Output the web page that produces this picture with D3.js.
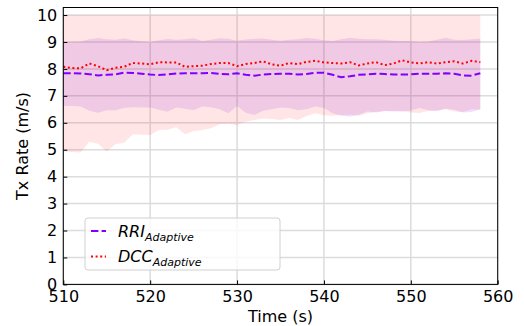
<!DOCTYPE html>
<html>
  <head>
    <meta charset="utf-8">
    <script type="text/javascript" src="https://cdn.jsdelivr.net/npm/d3@7"></script>
    <title></title>
    <style>
      body { margin: 0; background: #fff; }
      text { font-family: "DejaVu Sans", sans-serif; }
    </style>
  </head>
  <body>
    <div id="body"></div>
    <script type="text/javascript">
    // time axis, one sample per second
    var time = d3.range(510, 559);

    var rriMean = [7.84, 7.84, 7.83, 7.80, 7.76, 7.78, 7.80, 7.86, 7.85, 7.82,
                   7.79, 7.77, 7.80, 7.83, 7.84, 7.84, 7.84, 7.85, 7.82, 7.80,
                   7.84, 7.78, 7.75, 7.79, 7.81, 7.82, 7.82, 7.79, 7.81, 7.86,
                   7.86, 7.78, 7.69, 7.73, 7.78, 7.80, 7.82, 7.81, 7.79, 7.79,
                   7.80, 7.82, 7.82, 7.82, 7.84, 7.82, 7.76, 7.75, 7.84];
    var rriUpper = [9.01, 9.01, 9.02, 9.10, 9.15, 9.10, 9.08, 9.14, 9.06, 9.03,
                    9.00, 9.06, 9.11, 9.08, 9.10, 9.14, 9.04, 9.08, 9.14, 9.12,
                    9.05, 9.09, 9.12, 9.13, 9.08, 9.05, 9.08, 9.10, 9.15, 9.12,
                    9.06, 9.04, 9.10, 9.16, 9.12, 9.10, 9.10, 9.08, 9.05, 9.04,
                    9.04, 9.00, 9.02, 9.08, 9.16, 9.08, 9.07, 9.10, 9.13];
    var rriLower = [6.62, 6.62, 6.60, 6.45, 6.37, 6.47, 6.47, 6.55, 6.58, 6.57,
                    6.57, 6.48, 6.41, 6.57, 6.52, 6.47, 6.60, 6.58, 6.50, 6.35,
                    6.62, 6.37, 6.29, 6.45, 6.50, 6.57, 6.55, 6.47, 6.50, 6.60,
                    6.55, 6.35, 6.27, 6.22, 6.30, 6.42, 6.38, 6.44, 6.42, 6.42,
                    6.46, 6.55, 6.47, 6.44, 6.52, 6.48, 6.38, 6.40, 6.50];

    var dccMean = [8.08, 8.03, 8.02, 8.20, 8.10, 7.95, 8.04, 8.08, 8.22, 8.20,
                   8.17, 8.25, 8.24, 8.24, 8.08, 8.10, 8.12, 8.18, 8.22, 8.22,
                   8.10, 8.18, 8.22, 8.28, 8.17, 8.12, 8.22, 8.18, 8.26, 8.30,
                   8.24, 8.22, 8.20, 8.25, 8.13, 8.20, 8.25, 8.14, 8.20, 8.32,
                   8.24, 8.20, 8.25, 8.20, 8.25, 8.28, 8.20, 8.30, 8.25];
    var dccUpper = time.map(function() { return 10; });
    var dccLower = [4.93, 4.92, 4.90, 5.30, 5.22, 4.93, 5.20, 5.26, 5.57, 5.56,
                    5.55, 5.73, 5.74, 5.83, 5.57, 5.69, 5.73, 5.80, 5.95, 5.96,
                    5.92, 6.04, 6.10, 6.16, 6.14, 6.10, 6.18, 6.10, 6.25, 6.35,
                    6.28, 6.26, 6.28, 6.30, 6.26, 6.35, 6.40, 6.44, 6.44, 6.44,
                    6.38, 6.36, 6.44, 6.46, 6.50, 6.42, 6.40, 6.50, 6.48];

    var xTicks = [510, 520, 530, 540, 550, 560];
    var yTicks = d3.range(0, 11);

    var w = 524, h = 326;
    var plotL = 63.3, plotR = 497.7, plotT = 7.5, plotB = 284.4;
    var purple = "#7f00ff", red = "#ff0000";

    var x = d3.scaleLinear().domain([510, 560]).range([plotL, plotR]);
    var y = d3.scaleLinear().domain([0, 10.28]).range([plotB, plotT]);

    var svg = d3.select("#body").append("svg")
        .attr("width", w)
        .attr("height", h);

    // grid
    svg.append("g").selectAll("line").data(xTicks).enter().append("line")
        .attr("x1", function(d) { return x(d); }).attr("x2", function(d) { return x(d); })
        .attr("y1", plotT).attr("y2", plotB)
        .attr("stroke", "#dcdcdc").attr("stroke-width", 1.5);
    svg.append("g").selectAll("line").data(yTicks).enter().append("line")
        .attr("x1", plotL).attr("x2", plotR)
        .attr("y1", function(d) { return y(d); }).attr("y2", function(d) { return y(d); })
        .attr("stroke", "#dcdcdc").attr("stroke-width", 1.5);

    var band = function(lo, hi) {
      return d3.area()
        .x(function(d, i) { return x(time[i]); })
        .y0(function(d, i) { return y(lo[i]); })
        .y1(function(d, i) { return y(hi[i]); })(time);
    };
    var line = function(v) {
      return d3.line()
        .x(function(d, i) { return x(time[i]); })
        .y(function(d, i) { return y(v[i]); })(time);
    };

    svg.append("path").attr("d", band(rriLower, rriUpper))
        .attr("fill", purple).attr("fill-opacity", 0.12);
    svg.append("path").attr("d", band(dccLower, dccUpper))
        .attr("fill", red).attr("fill-opacity", 0.1);

    svg.append("path").attr("d", line(rriMean))
        .attr("fill", "none").attr("stroke", purple).attr("stroke-width", 2)
        .attr("stroke-dasharray", "7.4,3.2");
    svg.append("path").attr("d", line(dccMean))
        .attr("fill", "none").attr("stroke", red).attr("stroke-width", 2)
        .attr("stroke-dasharray", "2,2.6");

    // axes, ticks point inward
    var xAxis = svg.append("g").attr("transform", "translate(0," + plotB + ")")
        .call(d3.axisBottom(x).tickValues(xTicks).tickSizeInner(-4).tickSizeOuter(0).tickPadding(6));
    var yAxis = svg.append("g").attr("transform", "translate(" + plotL + ",0)")
        .call(d3.axisLeft(y).tickValues(yTicks).tickSizeInner(-4).tickSizeOuter(0).tickPadding(6));
    [xAxis, yAxis].forEach(function(a) {
      a.select(".domain").remove();
      a.selectAll("text").attr("font-family", "DejaVu Sans").attr("font-size", 16).attr("fill", "#000");
      a.selectAll("line").attr("stroke", "#000");
    });

    svg.append("rect")
        .attr("x", plotL).attr("y", plotT)
        .attr("width", plotR - plotL).attr("height", plotB - plotT)
        .attr("fill", "none").attr("stroke", "#000").attr("stroke-width", 1);

    svg.append("text")
        .attr("transform", "translate(28," + ((plotT + plotB) / 2) + ") rotate(-90)")
        .attr("text-anchor", "middle")
        .attr("font-size", 16)
        .text("Tx Rate (m/s)");
    svg.append("text")
        .attr("x", (plotL + plotR) / 2).attr("y", 322)
        .attr("text-anchor", "middle")
        .attr("font-size", 16)
        .text("Time (s)");

    // legend
    var legend = svg.append("g");
    legend.append("rect")
        .attr("x", 85).attr("y", 218).attr("width", 195).attr("height", 52)
        .attr("rx", 3).attr("fill", "#fff").attr("fill-opacity", 0.8)
        .attr("stroke", "#d0d0d0").attr("stroke-width", 1);
    var entries = [
      {name: "RRI", color: purple, dash: "7.4,3.2"},
      {name: "DCC", color: red, dash: "2,2.6"}
    ];
    entries.forEach(function(e, i) {
      var ly = 231 + i * 25.5;
      legend.append("line")
          .attr("x1", 91).attr("x2", 106).attr("y1", ly).attr("y2", ly)
          .attr("stroke", e.color).attr("stroke-width", 2).attr("stroke-dasharray", e.dash);
      var t = legend.append("text")
          .attr("x", 118).attr("y", ly + 5.5)
          .attr("font-size", 16).attr("font-style", "italic");
      t.append("tspan").text(e.name);
      t.append("tspan").attr("font-size", 11).attr("dy", 4).text("Adaptive");
    });
    </script>
  </body>
</html>
